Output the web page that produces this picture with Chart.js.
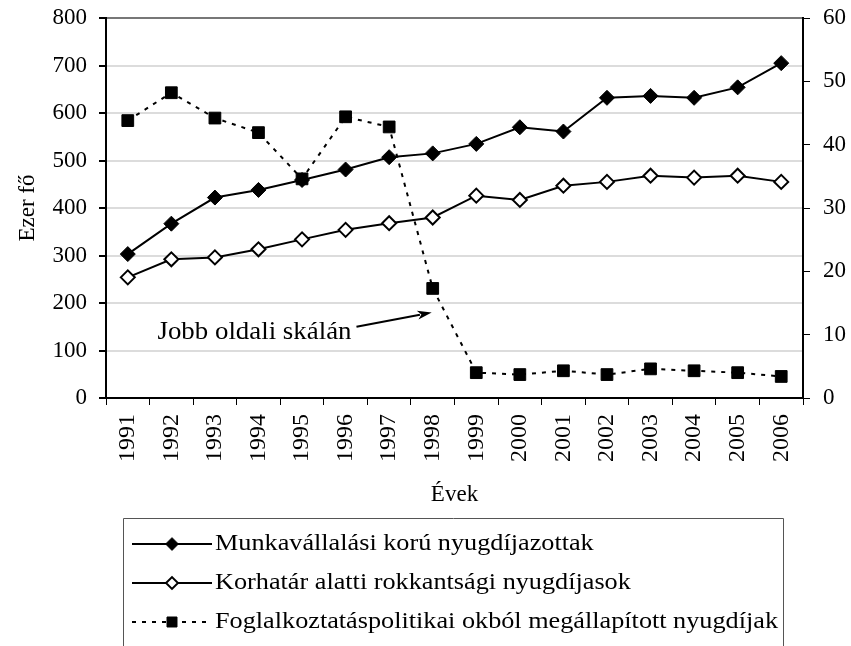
<!DOCTYPE html>
<html>
<head>
<meta charset="utf-8">
<script src="https://cdn.jsdelivr.net/npm/chart.js@4/dist/chart.umd.min.js"></script>
<style>
  html, body { margin: 0; padding: 0; background: #fff; }
  #wrap { width: 851px; height: 646px; position: relative; }
</style>
</head>
<body>
<div id="wrap"><canvas id="c" width="851" height="646"></canvas></div>
<script>
const years = ['1991','1992','1993','1994','1995','1996','1997','1998','1999','2000','2001','2002','2003','2004','2005','2006'];
const munkavallalasi = [303, 367, 422, 438, 459, 481, 507, 515, 535, 570, 561, 632, 636, 632, 654, 705];
const rokkantsagi = [254, 292, 296, 313, 334, 354, 368, 380, 426, 417, 447, 455, 468, 464, 468, 455];
const foglalkoztatas = [43.8, 48.2, 44.2, 41.9, 34.6, 44.4, 42.8, 17.3, 4.0, 3.7, 4.3, 3.7, 4.6, 4.3, 4.0, 3.4];
const seriesNames = ['Munkavállalási korú nyugdíjazottak', 'Korhatár alatti rokkantsági nyugdíjasok', 'Foglalkoztatáspolitikai okból megállapított nyugdíjak'];
const leftTicks = [0, 100, 200, 300, 400, 500, 600, 700, 800];
const rightTicks = [0, 10, 20, 30, 40, 50, 60];
const annotationText = 'Jobb oldali skálán';

const FONT = "'Liberation Serif', 'Times New Roman', serif";

function fitText(ctx, text, x, y, size, targetWidth, align) {
  ctx.font = size + 'px ' + FONT;
  const w = ctx.measureText(text).width;
  const sx = targetWidth / w;
  ctx.save();
  ctx.translate(x, y);
  ctx.scale(sx, 1);
  ctx.textAlign = align;
  ctx.fillText(text, 0, 0);
  ctx.restore();
}

const extras = {
  id: 'extras',
  afterDraw(chart) {
    const ctx = chart.ctx;
    const x = chart.scales.x, y = chart.scales.y;
    // annotation with arrow (anchored in data coordinates)
    const tipX = x.getPixelForValue(7) - 1, tipY = y.getPixelForValue(180);
    const tailX = x.getPixelForValue(5.25), tailY = y.getPixelForValue(150);
    ctx.save();
    ctx.strokeStyle = '#000'; ctx.fillStyle = '#000'; ctx.lineWidth = 2;
    const ang = Math.atan2(tipY - tailY, tipX - tailX);
    const hl = 15;
    ctx.beginPath();
    ctx.moveTo(tailX, tailY);
    ctx.lineTo(tipX - Math.cos(ang) * hl * 0.8, tipY - Math.sin(ang) * hl * 0.8);
    ctx.stroke();
    ctx.beginPath();
    ctx.moveTo(tipX, tipY);
    ctx.lineTo(tipX - hl * Math.cos(ang - 0.3), tipY - hl * Math.sin(ang - 0.3));
    ctx.lineTo(tipX - hl * 0.7 * Math.cos(ang), tipY - hl * 0.7 * Math.sin(ang));
    ctx.lineTo(tipX - hl * Math.cos(ang + 0.3), tipY - hl * Math.sin(ang + 0.3));
    ctx.closePath();
    ctx.fill();
    ctx.textBaseline = 'alphabetic';
    fitText(ctx, annotationText, tailX - 5, y.getPixelForValue(124), 25, 194, 'right');
    ctx.restore();

    // custom legend box
    const box = { left: 123, top: 518, right: 783 };
    ctx.save();
    ctx.strokeStyle = '#555'; ctx.lineWidth = 1;
    ctx.beginPath();
    ctx.moveTo(box.left + 0.5, chart.height + 2);
    ctx.lineTo(box.left + 0.5, box.top + 0.5);
    ctx.lineTo(box.right + 0.5, box.top + 0.5);
    ctx.lineTo(box.right + 0.5, chart.height + 2);
    ctx.stroke();
    const rows = [544, 583, 622];
    ctx.font = '23px ' + FONT;
    const longest = Math.max(...chart.data.datasets.map(d => ctx.measureText(d.label).width));
    const sx = 563 / longest;
    chart.data.datasets.forEach((ds, i) => {
      const cy = rows[i];
      ctx.save();
      ctx.strokeStyle = '#000'; ctx.lineWidth = 2;
      ctx.setLineDash(ds.borderDash || []);
      ctx.beginPath(); ctx.moveTo(132, cy); ctx.lineTo(212, cy); ctx.stroke();
      ctx.restore();
      ctx.save();
      ctx.fillStyle = ds.pointBackgroundColor;
      ctx.strokeStyle = ds.pointBorderColor;
      ctx.lineWidth = ds.pointBorderWidth;
      Chart.helpers.drawPoint(ctx, { pointStyle: ds.pointStyle, radius: ds.pointRadius * 0.85, borderWidth: ds.pointBorderWidth }, 172, cy);
      ctx.restore();
      ctx.save();
      ctx.fillStyle = '#000';
      ctx.font = '23px ' + FONT;
      ctx.textBaseline = 'middle';
      ctx.translate(215, cy);
      ctx.scale(sx, 1);
      ctx.textAlign = 'left';
      ctx.fillText(ds.label, 0, 0);
      ctx.restore();
    });
    ctx.restore();
  }
};

new Chart(document.getElementById('c'), {
  type: 'line',
  data: {
    labels: years,
    datasets: [
      {
        label: seriesNames[0], data: munkavallalasi, yAxisID: 'y',
        borderColor: '#000', borderWidth: 2, tension: 0,
        pointStyle: 'rectRot', pointRadius: 7.5, pointBackgroundColor: '#000', pointBorderColor: '#000', pointBorderWidth: 1,
        order: 2
      },
      {
        label: seriesNames[1], data: rokkantsagi, yAxisID: 'y',
        borderColor: '#000', borderWidth: 2, tension: 0,
        pointStyle: 'rectRot', pointRadius: 7, pointBackgroundColor: '#fff', pointBorderColor: '#000', pointBorderWidth: 2,
        order: 1
      },
      {
        label: seriesNames[2], data: foglalkoztatas, yAxisID: 'y2',
        borderColor: '#000', borderWidth: 2, borderDash: [4, 6], tension: 0,
        pointStyle: 'rect', pointRadius: 8.3, pointBackgroundColor: '#000', pointBorderColor: '#000', pointBorderWidth: 1,
        order: 0
      }
    ]
  },
  options: {
    responsive: false,
    animation: false,
    events: [],
    layout: { padding: { top: 18, bottom: 140, left: 0, right: 0 } },
    plugins: { legend: { display: false }, tooltip: { enabled: false } },
    scales: {
      x: {
        type: 'category',
        offset: true,
        afterFit: (s) => { s.height = 108; },
        grid: { display: true, drawOnChartArea: false, offset: true, drawTicks: true, tickLength: 7, tickColor: '#000', tickWidth: 1 },
        border: { display: true, color: '#000', width: 2 },
        ticks: { minRotation: 90, maxRotation: 90, autoSkip: false, padding: 9, color: '#000', font: { family: FONT, size: 24 } },
        title: { display: true, text: 'Évek', color: '#000', padding: { top: 0, bottom: -3 }, font: { family: FONT, size: 23 } }
      },
      y: {
        position: 'left',
        min: 0, max: 800,
        afterFit: (s) => { s.width = 106; s.paddingTop = 0; s.paddingBottom = 0; },
        afterBuildTicks: (s) => { s.ticks = leftTicks.map(v => ({ value: v })); },
        grid: {
          drawOnChartArea: true, drawTicks: true, tickLength: 7, tickColor: '#000', lineWidth: 2,
          color: (c) => (c.tick && c.tick.value === 800) ? '#777' : '#dcdcdc'
        },
        border: { display: true, color: '#000', width: 2 },
        ticks: { padding: 12, color: '#000', font: { family: FONT, size: 23 } },
        title: { display: true, text: 'Ezer fő', color: '#000', padding: { top: 14, bottom: 0 }, font: { family: FONT, size: 23 } }
      },
      y2: {
        position: 'right',
        min: 0, max: 60,
        afterFit: (s) => { s.width = 48; s.paddingTop = 0; s.paddingBottom = 0; },
        afterBuildTicks: (s) => { s.ticks = rightTicks.map(v => ({ value: v })); },
        grid: { drawOnChartArea: false, drawTicks: true, tickLength: 7, tickColor: '#000' },
        border: { display: true, color: '#000', width: 2 },
        ticks: { padding: 13, color: '#000', font: { family: FONT, size: 23 } }
      }
    }
  },
  plugins: [extras]
});
</script>
</body>
</html>
